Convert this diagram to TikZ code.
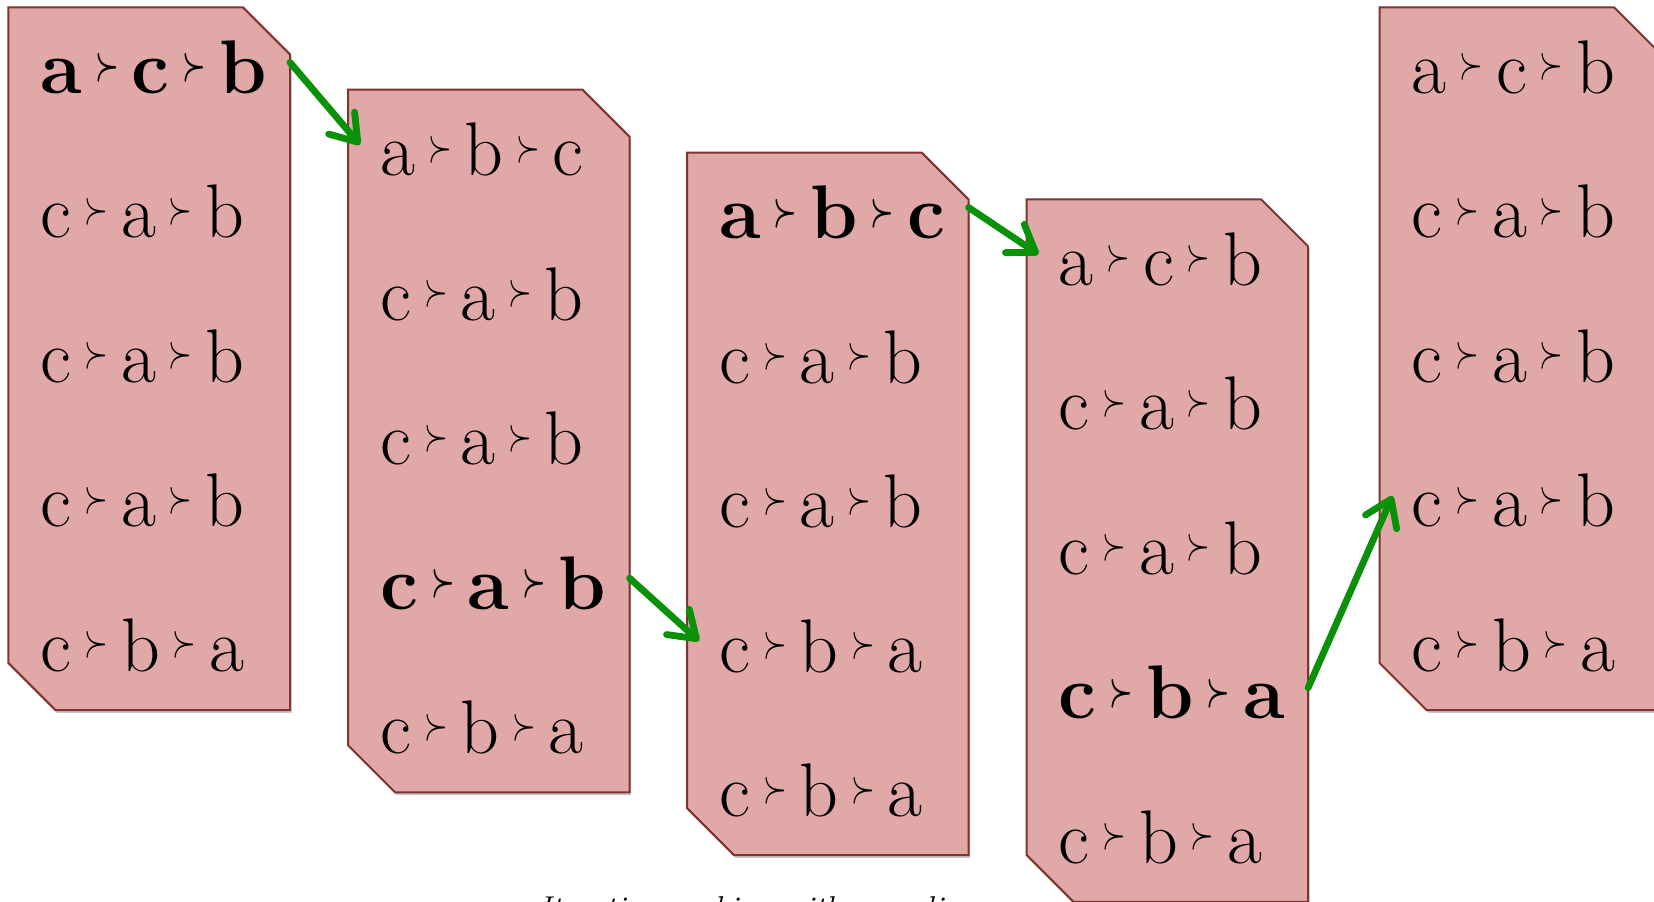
\documentclass[tikz,border=0pt]{standalone}
\usepackage{amsmath}
\usepackage{graphicx}
\usetikzlibrary{calc,arrows.meta,shadows}

\definecolor{panelfill}{RGB}{225,168,168}
\definecolor{paneledge}{RGB}{128,52,48}
\definecolor{stepgreen}{RGB}{10,145,10}

% preference sign: a slim, raised "succeeds" chevron
\newcommand\pf{\hspace{0.17em}\raisebox{0.19em}{\resizebox{0.31em}{0.33em}{$\succ$}}\hspace{0.17em}}
\newcommand\bpf{\hspace{0.17em}\raisebox{0.19em}{\resizebox{0.31em}{0.33em}{$\boldsymbol{\succ}$}}\hspace{0.17em}}

% one ballot panel: name, left, top, five rankings
\newcommand\prefpanel[8]{%
  \path (#2,#3) coordinate (#1nw) ++(281.6,0) coordinate (#1ne)
        ++(0,702.6) coordinate (#1se) ++(-281.6,0) coordinate (#1sw);
  \draw[panel] (#1nw) -- ($(#1ne)+(-47,0)$) -- ($(#1ne)+(0,47)$) -- (#1se)
        -- ($(#1sw)+(47,0)$) -- ($(#1sw)+(0,-47)$) -- cycle;
  \node[row] (#1r1) at ($(#1nw)+(32,86)$) {#4};
  \node[row] (#1r2) at ($(#1nw)+(32,230.5)$) {#5};
  \node[row] (#1r3) at ($(#1nw)+(32,375)$) {#6};
  \node[row] (#1r4) at ($(#1nw)+(32,519.5)$) {#7};
  \node[row] (#1r5) at ($(#1nw)+(32,664)$) {#8};
}

\tikzset{
  panel/.style={fill=panelfill, draw=paneledge, line width=1pt, line join=miter,
    drop shadow={opacity=0.22, shadow xshift=0.8pt, shadow yshift=-1.4pt, fill=black}},
  row/.style={anchor=base west, inner sep=0pt, font=\fontsize{38}{40}\selectfont},
  caption/.style={anchor=base west, inner sep=0pt, font=\fontsize{16.5}{18}\selectfont\itshape},
  move/.style={draw=stepgreen, line width=3.4pt, line cap=round,
    -{Straight Barb[length=12.5pt, width=17pt, round]}},
}

\begin{document}
\begin{tikzpicture}[x=0.5pt, y=-0.5pt]
\useasboundingbox (0,0) rectangle (1654,901);
\begin{scope}
\clip (0,0) rectangle (1654,901);

\prefpanel{B1}{8.4}{7.4}
  {\bfseries a\bpf c\bpf b}{c\pf a\pf b}{c\pf a\pf b}{c\pf a\pf b}{c\pf b\pf a}
\prefpanel{B2}{348}{89.7}
  {a\pf b\pf c}{c\pf a\pf b}{c\pf a\pf b}{\bfseries c\bpf a\bpf b}{c\pf b\pf a}
\prefpanel{B3}{687}{152.5}
  {\bfseries a\bpf b\bpf c}{c\pf a\pf b}{c\pf a\pf b}{c\pf b\pf a}{c\pf b\pf a}
\prefpanel{B4}{1026.5}{199.3}
  {a\pf c\pf b}{c\pf a\pf b}{c\pf a\pf b}{\bfseries c\bpf b\bpf a}{c\pf b\pf a}
\prefpanel{B5}{1379.5}{7.4}
  {a\pf c\pf b}{c\pf a\pf b}{c\pf a\pf b}{c\pf a\pf b}{c\pf b\pf a}

% improvement steps between consecutive profiles
\draw[move] ($(B1r1.base -| B1ne)+(0,-31)$) -- ($(B2r1.base -| B2nw)+(12,-31)$);
\draw[move] ($(B2r4.base -| B2ne)+(0,-31)$) -- ($(B3r4.base -| B3nw)+(12,-31)$);
\draw[move] ($(B3r1.base -| B3ne)+(0,-31)$) -- ($(B4r1.base -| B4nw)+(12,-31)$);
\draw[move] ($(B4r4.base -| B4ne)+(0,-31)$) -- ($(B5r4.base -| B5nw)+(13,-31)$);

\node[caption] (cap) at (538,919) {Iterative ranking with rounding};
\end{scope}
\end{tikzpicture}
\end{document}
